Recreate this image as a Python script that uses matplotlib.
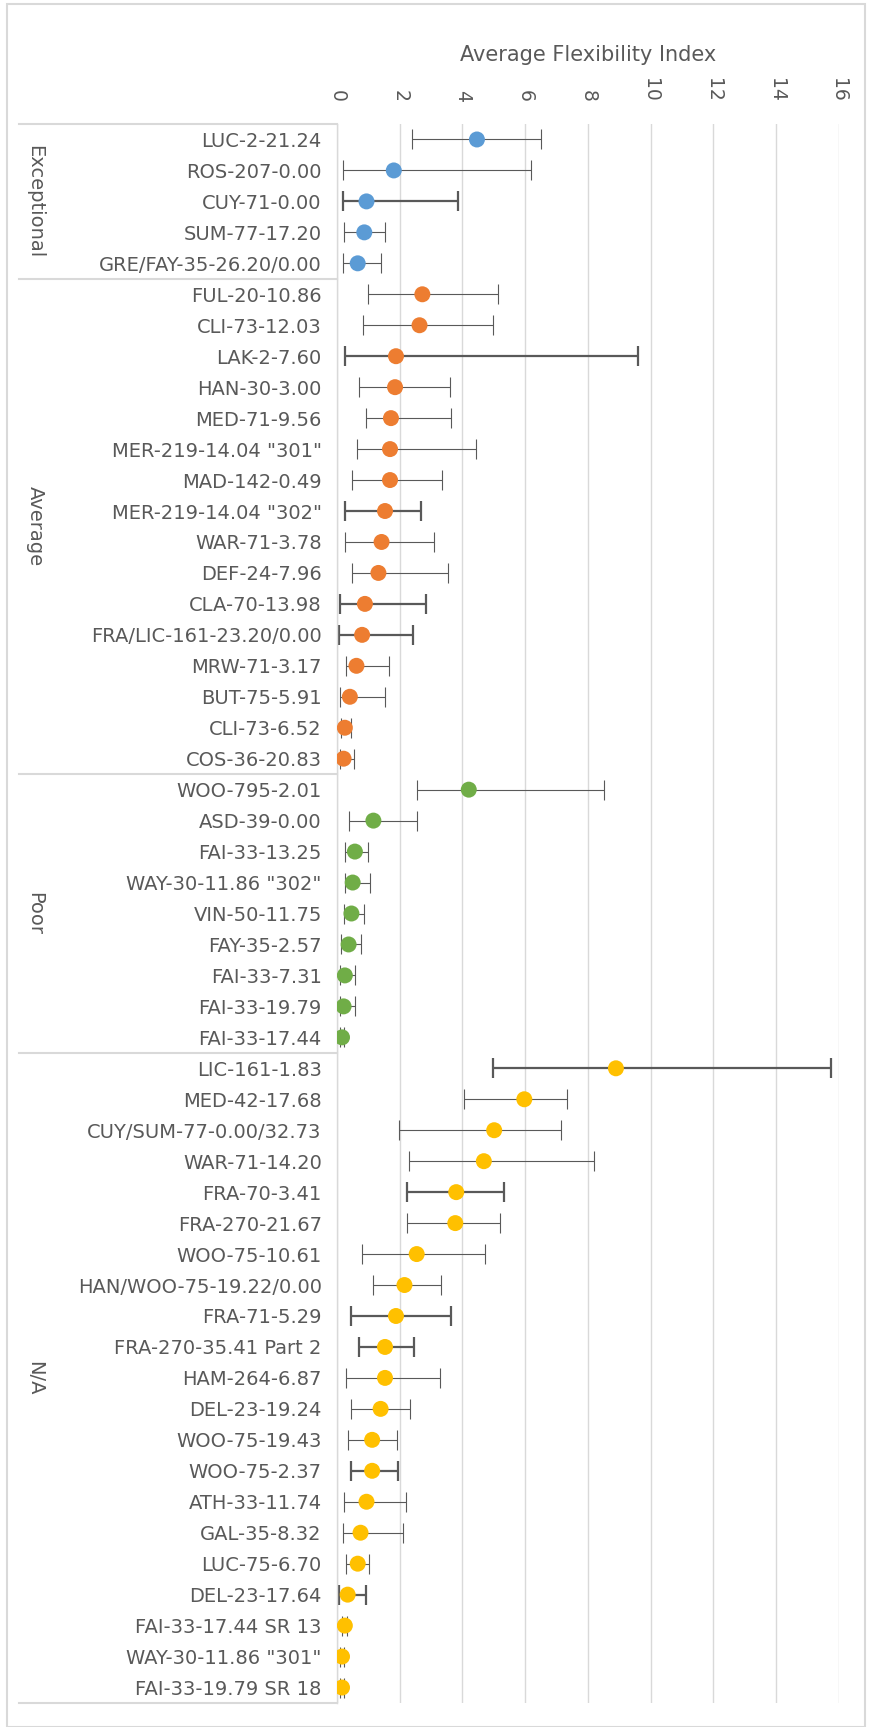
import matplotlib.pyplot as plt
import numpy as np

plt.rcParams['font.family'] = ['DejaVu Sans']

# groups, in order from top to bottom
groups = ['Exceptional', 'Average', 'Poor', 'N/A']
group_sizes = [5, 16, 9, 21]
group_colors = ['#5B9BD5', '#ED7D31', '#70AD47', '#FFC000']

labels = [
    # Exceptional
    'LUC-2-21.24', 'ROS-207-0.00', 'CUY-71-0.00', 'SUM-77-17.20', 'GRE/FAY-35-26.20/0.00',
    # Average
    'FUL-20-10.86', 'CLI-73-12.03', 'LAK-2-7.60', 'HAN-30-3.00', 'MED-71-9.56',
    'MER-219-14.04 "301"', 'MAD-142-0.49', 'MER-219-14.04 "302"', 'WAR-71-3.78', 'DEF-24-7.96',
    'CLA-70-13.98', 'FRA/LIC-161-23.20/0.00', 'MRW-71-3.17', 'BUT-75-5.91', 'CLI-73-6.52',
    'COS-36-20.83',
    # Poor
    'WOO-795-2.01', 'ASD-39-0.00', 'FAI-33-13.25', 'WAY-30-11.86 "302"', 'VIN-50-11.75',
    'FAY-35-2.57', 'FAI-33-7.31', 'FAI-33-19.79', 'FAI-33-17.44',
    # N/A
    'LIC-161-1.83', 'MED-42-17.68', 'CUY/SUM-77-0.00/32.73', 'WAR-71-14.20', 'FRA-70-3.41',
    'FRA-270-21.67', 'WOO-75-10.61', 'HAN/WOO-75-19.22/0.00', 'FRA-71-5.29',
    'FRA-270-35.41 Part 2', 'HAM-264-6.87', 'DEL-23-19.24', 'WOO-75-19.43', 'WOO-75-2.37',
    'ATH-33-11.74', 'GAL-35-8.32', 'LUC-75-6.70', 'DEL-23-17.64', 'FAI-33-17.44 SR 13',
    'WAY-30-11.86 "301"', 'FAI-33-19.79 SR 18',
]

avg_fi = [
    4.46, 1.81, 0.94, 0.87, 0.66,
    2.72, 2.63, 1.88, 1.85, 1.72, 1.69, 1.69, 1.53, 1.42, 1.32, 0.89, 0.80, 0.62, 0.41,
    0.25, 0.21,
    4.20, 1.16, 0.57, 0.50, 0.46, 0.37, 0.25, 0.21, 0.16,
    8.89, 5.97, 5.01, 4.68, 3.80, 3.77, 2.54, 2.15, 1.88, 1.53, 1.53, 1.39, 1.12, 1.12,
    0.94, 0.75, 0.66, 0.34, 0.25, 0.16, 0.16,
]
fi_low = [
    2.40, 0.20, 0.18, 0.23, 0.20,
    0.98, 0.84, 0.25, 0.69, 0.91, 0.64, 0.48, 0.25, 0.25, 0.48, 0.11, 0.07, 0.30, 0.11,
    0.12, 0.10,
    2.54, 0.39, 0.27, 0.25, 0.21, 0.12, 0.10, 0.08, 0.10,
    4.96, 4.05, 1.97, 2.29, 2.22, 2.22, 0.80, 1.14, 0.46, 0.69, 0.30, 0.44, 0.36, 0.44,
    0.23, 0.18, 0.30, 0.07, 0.15, 0.08, 0.08,
]
fi_high = [
    6.51, 6.19, 3.86, 1.53, 1.39,
    5.14, 4.96, 9.58, 3.59, 3.64, 4.44, 3.34, 2.67, 3.08, 3.54, 2.83, 2.42, 1.67, 1.53,
    0.46, 0.53,
    8.50, 2.56, 1.00, 1.05, 0.87, 0.75, 0.57, 0.57, 0.22,
    15.73, 7.32, 7.13, 8.18, 5.32, 5.19, 4.71, 3.32, 3.63, 2.45, 3.27, 2.33, 1.90, 1.94,
    2.19, 2.10, 1.01, 0.94, 0.33, 0.22, 0.22,
]
# rows whose error bar is drawn with a heavier line
heavy = [
    0, 0, 1, 0, 0,
    0, 0, 1, 0, 0, 0, 0, 1, 0, 0, 1, 1, 0, 0, 0, 0,
    0, 0, 0, 0, 0, 0, 0, 0, 0,
    1, 0, 0, 0, 1, 0, 0, 0, 1, 1, 0, 0, 0, 1, 0, 0, 0, 1, 0, 0, 0,
]

W, H = 870, 1727
fig = plt.figure(figsize=(W / 100, H / 100), dpi=100)
fig.patch.set_facecolor('white')

# chart area border
border = plt.Rectangle((7 / W, 0.0), (865 - 7) / W, 1 - 4 / H, transform=fig.transFigure,
                       fill=False, edgecolor='#d9d9d9', lw=1.5)
fig.add_artist(border)

ax = fig.add_axes([337 / W, 1 - 1703 / H, 502 / W, (1703 - 124) / H])

grey = '#595959'
y = np.arange(len(labels))
colors = np.repeat(group_colors, group_sizes)
vals = np.array(avg_fi)
lo = vals - np.array(fi_low)
hi = np.array(fi_high) - vals

for i in range(len(labels)):
    lw = 1.6 if heavy[i] else 0.8
    ax.errorbar(vals[i], y[i], xerr=[[lo[i]], [hi[i]]], fmt='none', ecolor=grey,
                elinewidth=lw, capsize=7, capthick=lw, zorder=2)
ax.scatter(vals, y, s=11.5 ** 2, c=list(colors), zorder=3, linewidths=0)

ax.set_xlim(0, 16)
ax.set_ylim(len(labels) - 0.5, -0.5)
ax.set_xticks(np.arange(0, 17, 2))
ax.xaxis.tick_top()
ax.tick_params(axis='x', length=0, pad=16, labelsize=13.5, labelcolor=grey, labelrotation=-90)
ax.set_yticks(y)
ax.set_yticklabels(labels, fontsize=14, color=grey)
ax.tick_params(axis='y', length=0, pad=11)
ax.grid(axis='x', color='#d9d9d9', lw=1)
ax.set_axisbelow(True)
for s in ['top', 'right', 'bottom']:
    ax.spines[s].set_visible(False)
ax.spines['left'].set_color('#d9d9d9')
ax.spines['left'].set_linewidth(1)

# group separators and group names on the left
tr = ax.get_yaxis_transform()
x_left = (19 - 337) / 502
bounds = np.concatenate([[0], np.cumsum(group_sizes)]) - 0.5
for b in bounds:
    ax.plot([x_left, 0], [b, b], transform=tr, color='#d9d9d9', lw=1.5, clip_on=False)
for g, a, b in zip(groups, bounds[:-1], bounds[1:]):
    ax.text((35 - 337) / 502, (a + b) / 2, g, transform=tr, rotation=-90,
            ha='center', va='center', fontsize=14, color=grey)

fig.text(588 / W, 1 - 61 / H, 'Average Flexibility Index', ha='center', va='baseline',
         fontsize=15, color=grey)

fig.savefig('out.png', dpi=100)
